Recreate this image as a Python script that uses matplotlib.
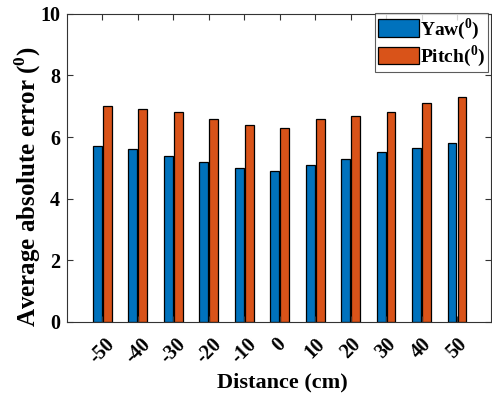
import numpy as np
import matplotlib
matplotlib.use("Agg")
import matplotlib.pyplot as plt

plt.rcParams['font.family'] = 'Liberation Serif'
plt.rcParams['font.weight'] = 'bold'
plt.rcParams['mathtext.fontset'] = 'custom'
plt.rcParams['mathtext.rm'] = 'Liberation Serif:bold'
plt.rcParams['mathtext.bf'] = 'Liberation Serif:bold'

distance = [-50, -40, -30, -20, -10, 0, 10, 20, 30, 40, 50]
yaw_err = [5.7, 5.6, 5.4, 5.2, 5.0, 4.9, 5.1, 5.3, 5.5, 5.65, 5.8]
pitch_err = [7.0, 6.9, 6.8, 6.6, 6.4, 6.3, 6.6, 6.7, 6.8, 7.1, 7.3]

x = np.arange(len(distance))
w = 0.25

fig = plt.figure(figsize=(4.92, 3.96), dpi=100)
ax = fig.add_axes([0.136, 0.187, 0.862, 0.778])

ax.bar(x - 0.14, yaw_err, w, color='#0072BD', edgecolor='black', linewidth=0.9,
       label='Yaw($^{0}$)')
ax.bar(x + 0.14, pitch_err, w, color='#D95319', edgecolor='black', linewidth=0.9,
       label='Pitch($^{0}$)')

ax.set_xlim(-1.0, 10.96)
ax.set_ylim(0, 10)
ax.set_xticks(x)
ax.set_xticklabels([str(d) for d in distance], rotation=45, ha='center', va='top')
ax.set_yticks([0, 2, 4, 6, 8, 10])
ax.tick_params(direction='in', labelsize=14.5, top=True, right=True, length=4,
               color='#333333')
ax.tick_params(axis='x', pad=9)
ax.tick_params(axis='y', pad=5)
for s in ax.spines.values():
    s.set_color('#333333')
    s.set_linewidth(0.8)

ax.set_xlabel('Distance (cm)', fontsize=16, fontweight='bold')
ax.xaxis.set_label_coords(0.507, -0.165)
ax.set_ylabel('Average absolute error ($^{0}$)', fontsize=18, fontweight='bold')
ax.yaxis.set_label_coords(-0.057, 0.44)

leg = ax.legend(loc='upper right', bbox_to_anchor=(0.993, 1.003), fontsize=14,
                frameon=True, fancybox=False, edgecolor='#333333',
                borderaxespad=0.0, handlelength=2.1, handleheight=1.0,
                handletextpad=0.05, borderpad=0.15, labelspacing=0.1)
leg.get_frame().set_linewidth(0.8)

fig.savefig('out.png', dpi=100)
